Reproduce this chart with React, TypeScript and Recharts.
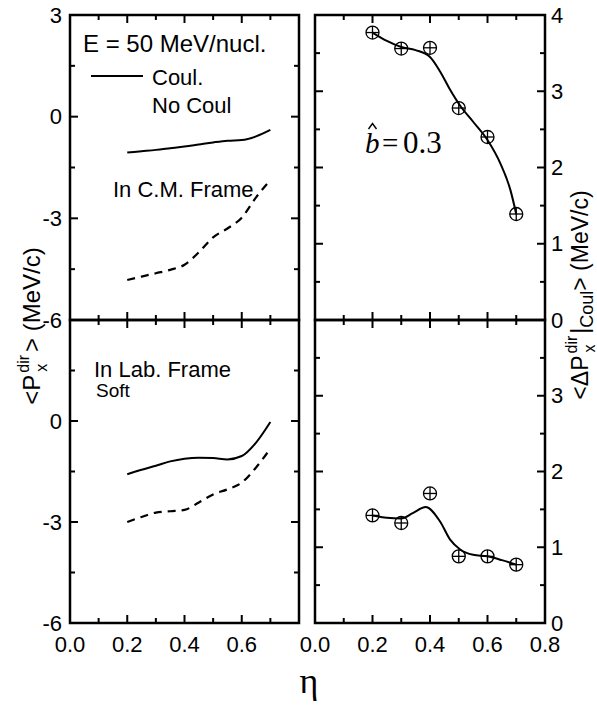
import React from 'react';
import { ComposedChart, Line, Scatter, XAxis, YAxis, ReferenceArea } from 'recharts';

const W = 597;
const H = 705;
const SANS = '"Liberation Sans", Arial, Helvetica, sans-serif';
const SERIF = '"Liberation Serif", "Times New Roman", serif';

// ---------- data ----------
const pointEta = [0.2, 0.3, 0.4, 0.5, 0.6, 0.7];
const curveEta = [0.2, 0.25, 0.3, 0.35, 0.4, 0.45, 0.5, 0.55, 0.6, 0.65, 0.7];

// C.M. frame (top-left)
const cmCoul = [-1.06, -1.02, -0.98, -0.93, -0.88, -0.82, -0.76, -0.71, -0.69, -0.58, -0.39];
const cmNoCoul = [-4.82, -4.72, -4.62, -4.52, -4.37, -4.0, -3.56, -3.3, -2.98, -2.38, -1.87];

// Lab frame, soft (bottom-left)
const labCoul = [-1.58, -1.45, -1.33, -1.2, -1.12, -1.09, -1.1, -1.14, -1.04, -0.64, -0.03];
const labNoCoul = [-3.0, -2.85, -2.72, -2.68, -2.64, -2.42, -2.18, -2.03, -1.83, -1.38, -0.82];

// Coulomb difference, C.M. (top-right)
const deltaCMPoints = [3.77, 3.56, 3.57, 2.78, 2.4, 1.39];
const deltaCMFitEta = [0.2, 0.25, 0.3, 0.35, 0.4, 0.435, 0.47, 0.505, 0.55, 0.6, 0.645, 0.68, 0.7];
const deltaCMFit = [3.77, 3.66, 3.58, 3.54, 3.45, 3.26, 3.02, 2.81, 2.6, 2.36, 2.05, 1.7, 1.39];

// Coulomb difference, Lab (bottom-right)
const deltaLabPoints = [1.42, 1.32, 1.71, 0.88, 0.88, 0.77];
const deltaLabFitEta = [0.2, 0.25, 0.3, 0.34, 0.385, 0.435, 0.47, 0.505, 0.55, 0.6, 0.65, 0.7];
const deltaLabFit = [1.42, 1.39, 1.38, 1.45, 1.53, 1.34, 1.1, 0.97, 0.9, 0.88, 0.83, 0.77];

// axes / ticks
const xTicks = [0, 0.1, 0.2, 0.3, 0.4, 0.5, 0.6, 0.7, 0.8];
const leftYTicks = [-6, -4.5, -3, -1.5, 0, 1.5, 3];
const rightYTicks = [0, 0.5, 1, 1.5, 2, 2.5, 3, 3.5, 4];
const tlYLabels = [-6, -3, 0, 3];
const blYLabels = [-6, -3, 0];
const trYLabels = [0, 1, 2, 3, 4];
const brYLabels = [0, 1, 2, 3];
const blXLabels = [0, 0.2, 0.4, 0.6];
const brXLabels = [0, 0.2, 0.4, 0.6, 0.8];

const toRows = (xs: number[], ys: number[]) => xs.map((e, i) => ({ eta: e, v: ys[i] }));

// ---------- layout ----------
type Geom = { left: number; right: number; top: number; bottom: number };
const G_TL: Geom = { left: 70, right: 299, top: 15, bottom: 320 };
const G_TR: Geom = { left: 315, right: 545, top: 15, bottom: 320 };
const G_BL: Geom = { left: 70, right: 299, top: 320, bottom: 623 };
const G_BR: Geom = { left: 315, right: 545, top: 320, bottom: 623 };

const has = (arr: number[] | null, v: number) => !!arr && arr.some((a) => Math.abs(a - v) < 1e-6);

function makeXTick(g: Geom, labels: number[] | null) {
  return (props: any) => {
    const x = props.x;
    const v = props.payload.value;
    const major = Math.round(v * 10) % 2 === 0;
    const len = major ? 8 : 5;
    return (
      <g>
        <line x1={x} x2={x} y1={g.bottom} y2={g.bottom - len} stroke="#000" strokeWidth={2} />
        <line x1={x} x2={x} y1={g.top} y2={g.top + len} stroke="#000" strokeWidth={2} />
        {major && has(labels, v) ? (
          <text x={x} y={g.bottom + 29} textAnchor="middle" fontSize={22} fontFamily={SANS} fill="#000">
            {v.toFixed(1)}
          </text>
        ) : null}
      </g>
    );
  };
}

function makeYTick(g: Geom, labels: number[], side: 'left' | 'right', majorStep: number) {
  return (props: any) => {
    const y = props.y;
    const v = props.payload.value;
    const major = Math.abs(v / majorStep - Math.round(v / majorStep)) < 1e-6;
    const len = major ? 8 : 5;
    const showLabel = major && has(labels, v);
    return (
      <g>
        <line x1={g.left} x2={g.left + len} y1={y} y2={y} stroke="#000" strokeWidth={2} />
        <line x1={g.right} x2={g.right - len} y1={y} y2={y} stroke="#000" strokeWidth={2} />
        {showLabel ? (
          side === 'left' ? (
            <text x={g.left - 8} y={y + 7.5} textAnchor="end" fontSize={22} fontFamily={SANS} fill="#000">
              {String(v)}
            </text>
          ) : (
            <text x={g.right + 6} y={y + 7.5} textAnchor="start" fontSize={22} fontFamily={SANS} fill="#000">
              {String(v)}
            </text>
          )
        ) : null}
      </g>
    );
  };
}

const CrossCircle = (p: any) => {
  const { cx, cy } = p;
  if (cx == null || cy == null) return null;
  const r = 6.5;
  return (
    <g>
      <circle cx={cx} cy={cy} r={r} fill="none" stroke="#000" strokeWidth={1.3} />
      <line x1={cx - r} x2={cx + r} y1={cy} y2={cy} stroke="#000" strokeWidth={1.3} />
      <line x1={cx} x2={cx} y1={cy - r} y2={cy + r} stroke="#000" strokeWidth={1.3} />
    </g>
  );
};

type PanelProps = {
  g: Geom;
  yDomain: [number, number];
  yTicks: number[];
  yLabels: number[];
  xLabels: number[] | null;
  side: 'left' | 'right';
  majorStep: number;
  children?: React.ReactNode;
};

const AX = 1; // axis band thickness (must be > 0 for Recharts to render ticks)

function Panel({ g, yDomain, yTicks, yLabels, xLabels, side, majorStep, children }: PanelProps) {
  const margin =
    side === 'left'
      ? { left: g.left - AX, right: W - g.right, top: g.top, bottom: H - g.bottom - AX }
      : { left: g.left, right: W - g.right - AX, top: g.top, bottom: H - g.bottom - AX };
  return (
    <div style={{ position: 'absolute', left: 0, top: 0, width: W, height: H }}>
      <ComposedChart width={W} height={H} margin={margin} style={{ overflow: 'visible' }}>
        <XAxis
          type="number"
          dataKey="eta"
          domain={[0, 0.8]}
          allowDataOverflow
          ticks={xTicks}
          interval={0}
          height={AX}
          tickSize={0}
          tickMargin={0}
          axisLine={false}
          tickLine={false}
          tick={makeXTick(g, xLabels)}
        />
        <YAxis
          type="number"
          dataKey="v"
          orientation={side}
          domain={yDomain}
          allowDataOverflow
          ticks={yTicks}
          interval={0}
          width={AX}
          tickSize={0}
          tickMargin={0}
          axisLine={false}
          tickLine={false}
          tick={makeYTick(g, yLabels, side, majorStep)}
        />
        <ReferenceArea
          x1={0}
          x2={0.8}
          y1={yDomain[0]}
          y2={yDomain[1]}
          fill="none"
          fillOpacity={0}
          stroke="#000"
          strokeWidth={2.5}
          ifOverflow="visible"
        />
        {children}
      </ComposedChart>
    </div>
  );
}

export default function App() {
  return (
    <div style={{ position: 'absolute', left: 0, top: 0, width: W, height: H, background: '#fff', overflow: 'hidden' }}>
      {/* Top-left: C.M. frame */}
      <Panel g={G_TL} yDomain={[-6, 3]} yTicks={leftYTicks} yLabels={tlYLabels} xLabels={null} side="left" majorStep={3}>
        <Line data={toRows(curveEta, cmCoul)} dataKey="v" type="monotone" stroke="#000" strokeWidth={2} dot={false} isAnimationActive={false} />
        <Line data={toRows(curveEta, cmNoCoul)} dataKey="v" type="monotone" stroke="#000" strokeWidth={2.2} strokeDasharray="8 6" dot={false} isAnimationActive={false} />
        <text x={83} y={52} fontSize={24} fontFamily={SANS} fill="#000">E = 50 MeV/nucl.</text>
        <line x1={91} x2={143} y1={76} y2={76} stroke="#000" strokeWidth={2} />
        <text x={152} y={85} fontSize={22} fontFamily={SANS} fill="#000">Coul.</text>
        <text x={152} y={113} fontSize={22} fontFamily={SANS} fill="#000">No Coul</text>
        <text x={113} y={197} fontSize={22} fontFamily={SANS} fill="#000">In C.M. Frame</text>
      </Panel>

      {/* Bottom-left: Lab frame */}
      <Panel g={G_BL} yDomain={[-6, 3]} yTicks={leftYTicks} yLabels={blYLabels} xLabels={blXLabels} side="left" majorStep={3}>
        <Line data={toRows(curveEta, labCoul)} dataKey="v" type="monotone" stroke="#000" strokeWidth={2} dot={false} isAnimationActive={false} />
        <Line data={toRows(curveEta, labNoCoul)} dataKey="v" type="monotone" stroke="#000" strokeWidth={2.2} strokeDasharray="8 6" dot={false} isAnimationActive={false} />
        <text x={94} y={377} fontSize={22} fontFamily={SANS} fill="#000">In Lab. Frame</text>
        <text x={96} y={397} fontSize={19} fontFamily={SANS} fill="#000">Soft</text>
        <text transform="translate(40,326) rotate(-90)" textAnchor="middle" fontSize={24} fontFamily={SANS} fill="#000">
          {'<P'}
          <tspan dx={3} dy={7} fontSize={16}>x</tspan>
          <tspan dx={-9} dy={-18} fontSize={16}>dir</tspan>
          <tspan dx={3} dy={11}>{'> (MeV/c)'}</tspan>
        </text>
      </Panel>

      {/* Top-right: delta C.M. */}
      <Panel g={G_TR} yDomain={[0, 4]} yTicks={rightYTicks} yLabels={trYLabels} xLabels={null} side="right" majorStep={1}>
        <Line data={toRows(deltaCMFitEta, deltaCMFit)} dataKey="v" type="monotone" stroke="#000" strokeWidth={2} dot={false} isAnimationActive={false} />
        <Scatter data={toRows(pointEta, deltaCMPoints)} dataKey="v" shape={CrossCircle} isAnimationActive={false} />
        <text x={365} y={153} fontSize={29} fontFamily={SERIF} fontStyle="italic" fill="#000">b</text>
        <path d="M368.5,129 L372.5,123.5 L376.5,129" fill="none" stroke="#000" strokeWidth={1.4} />
        <text x={382} y={153} fontSize={29} fontFamily={SERIF} fill="#000">=</text>
        <text x={403} y={153} fontSize={31} fontFamily={SERIF} fill="#000">0.3</text>
      </Panel>

      {/* Bottom-right: delta Lab */}
      <Panel g={G_BR} yDomain={[0, 4]} yTicks={rightYTicks} yLabels={brYLabels} xLabels={brXLabels} side="right" majorStep={1}>
        <Line data={toRows(deltaLabFitEta, deltaLabFit)} dataKey="v" type="monotone" stroke="#000" strokeWidth={2} dot={false} isAnimationActive={false} />
        <Scatter data={toRows(pointEta, deltaLabPoints)} dataKey="v" shape={CrossCircle} isAnimationActive={false} />
        <text x={309} y={693} textAnchor="middle" fontSize={36} fontFamily={SERIF} fill="#000">η</text>
        <text transform="translate(588,295) rotate(-90)" textAnchor="middle" fontSize={23} fontFamily={SANS} fill="#000">
          {'<ΔP'}
          <tspan dx={3} dy={7} fontSize={16}>x</tspan>
          <tspan dx={-9} dy={-18} fontSize={16}>dir</tspan>
          <tspan dx={2} dy={11}>|</tspan>
          <tspan dy={5} fontSize={18}>Coul</tspan>
          <tspan dy={-5}>{'> (MeV/c)'}</tspan>
        </text>
      </Panel>
    </div>
  );
}
